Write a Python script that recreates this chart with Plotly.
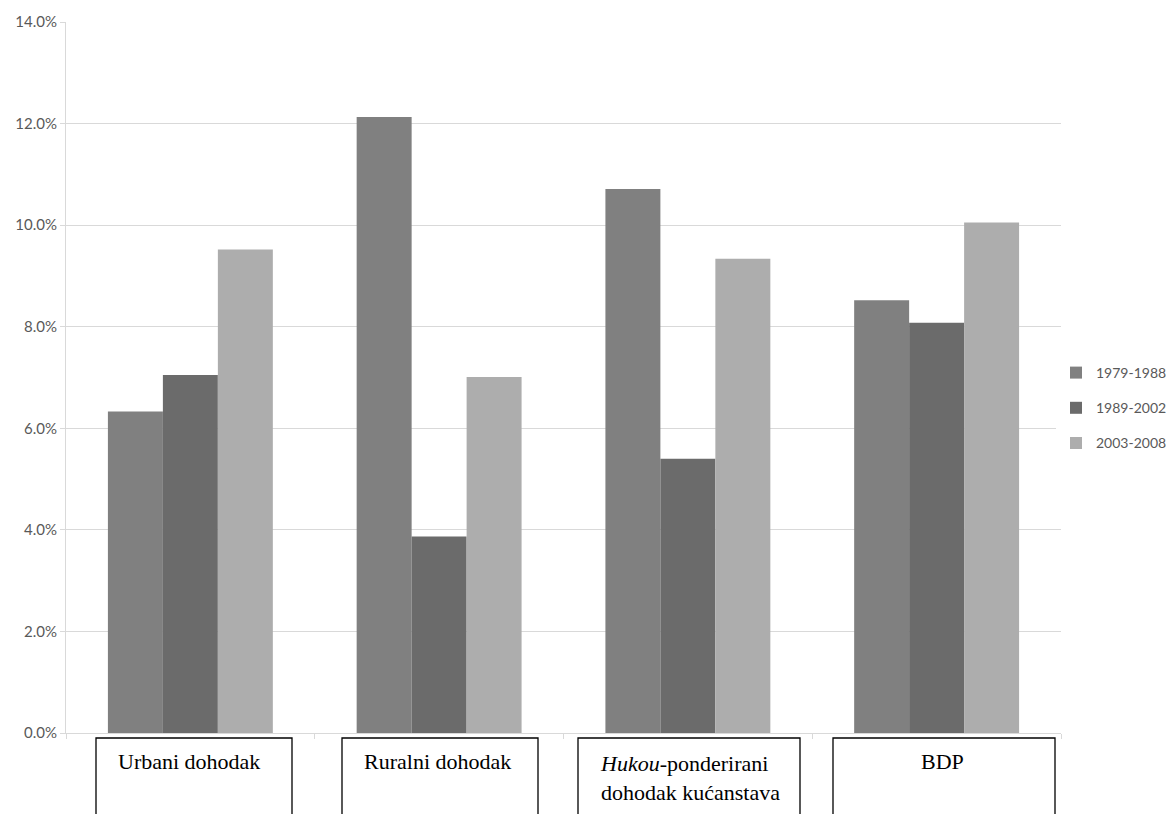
import plotly.graph_objects as go

categories = ["Urbani dohodak", "Ruralni dohodak", "Hukou-ponderirani dohodak kućanstava", "BDP"]
box_labels = ["Urbani dohodak", "Ruralni dohodak",
              "<i>Hukou</i>-ponderirani<br>dohodak kućanstava", "BDP"]
series_names = ["1979-1988", "1989-2002", "2003-2008"]
s1979 = [6.33, 12.13, 10.71, 8.52]
s1989 = [7.05, 3.87, 5.40, 8.08]
s2003 = [9.52, 7.01, 9.34, 10.05]
colors = ["#808080", "#6b6b6b", "#adadad"]

fig = go.Figure()
for i, (name, vals) in enumerate(zip(series_names, [s1979, s1989, s2003])):
    fig.add_trace(go.Bar(x=categories, y=[v / 100 for v in vals], name=name,
                         marker=dict(color=colors[i], line=dict(width=0)),
                         legendgroup=name))

# page has an 8px body margin; plot area on the page spans x 66..1061, y 22..733
OFF = 8
PL, PR, PT, PB = 66, 1061, 22, 733
FW, FH = 1174 - OFF, 814 - OFF
L, T = PL - OFF, PT - OFF
R, B = FW - (PR - OFF), FH - (PB - OFF)


def px_x(p):
    return (p - PL) / (PR - PL)


def px_y(p):
    return (PB - p) / (PB - PT)


# label boxes under the axis
boxes = [(96, 292), (342, 538), (578, 800), (833, 1055)]
text_pos = [(116, "left", 761), (362, "left", 761), (598, "left", 778), (942, "center", 761)]
for (x0, x1), (tx, anchor, ty), lab in zip(boxes, text_pos, box_labels):
    fig.add_shape(type="rect", xref="paper", yref="paper",
                  x0=px_x(x0), x1=px_x(x1), y0=px_y(738), y1=px_y(840),
                  line=dict(color="#000000", width=1.3), fillcolor="white")
    fig.add_annotation(xref="paper", yref="paper", x=px_x(tx), y=px_y(ty),
                       xanchor=anchor, yanchor="middle", text=lab, showarrow=False,
                       align="left",
                       font=dict(family="Liberation Serif", size=22, color="#000000"))

fig.update_layout(
    width=FW, height=FH,
    margin=dict(l=L, r=R, t=T, b=B, autoexpand=False),
    paper_bgcolor="white", plot_bgcolor="white",
    barmode="group", bargap=0.337, bargroupgap=0,
    font=dict(family="Lato", size=15, color="#595959"),
    legend=dict(xref="container", yref="container",
                x=(1056 - OFF) / FW, y=1 - (408 - OFF) / FH,
                xanchor="left", yanchor="middle",
                font=dict(size=14, color="#595959"), tracegroupgap=14,
                itemwidth=30),
    showlegend=True,
)
fig.update_xaxes(showticklabels=False, ticks="outside", tickson="boundaries",
                 ticklen=5, tickcolor="#d9d9d9", showline=True, linecolor="#d9d9d9",
                 linewidth=1, showgrid=False, automargin=False)
fig.update_yaxes(range=[0, 0.14], dtick=0.02, tickformat=".1%", showgrid=True,
                 gridcolor="#d9d9d9", gridwidth=1, showline=True, linecolor="#d9d9d9",
                 ticks="outside", ticklen=5, tickcolor="#d9d9d9", zeroline=False,
                 automargin=False, tickfont=dict(size=15, color="#595959"))

fig.write_html("out.html")
